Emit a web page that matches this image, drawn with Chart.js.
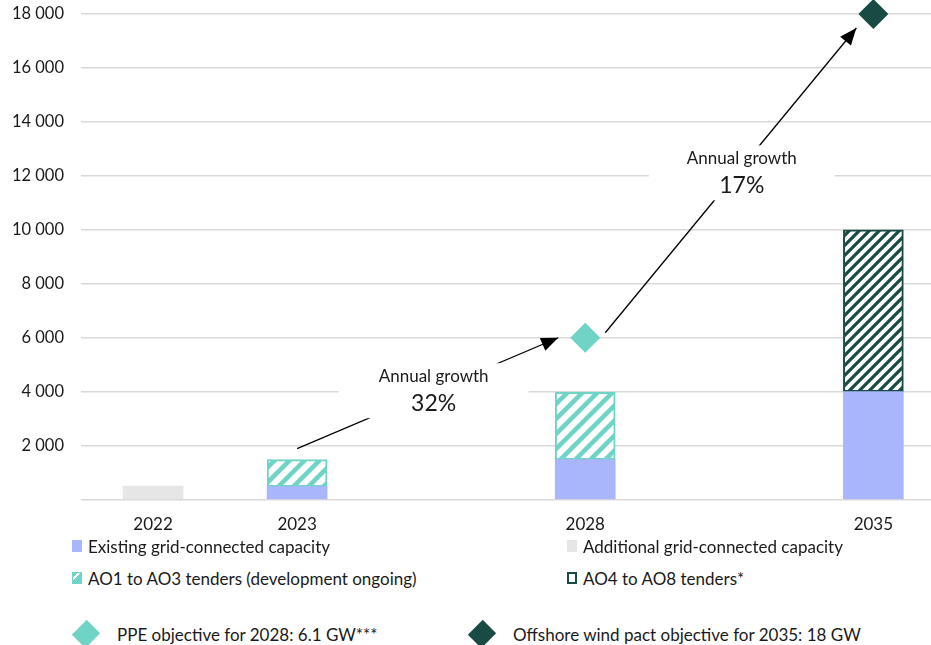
<!DOCTYPE html>
<html>
<head>
<meta charset="utf-8">
<script src="https://cdn.jsdelivr.net/npm/chart.js@4.4.1/dist/chart.umd.min.js"></script>
<style>
  body { margin: 0; background: #fff; font-family: Lato, "Open Sans", sans-serif; }
  #wrap { position: relative; width: 931px; height: 645px; overflow: hidden; }
  #box { position: absolute; left: 0; top: 0; width: 931px; height: 542px; }
  .leg { position: absolute; font-size: 17px; color: #1a1a1a; display: flex; align-items: center; white-space: nowrap; height: 20px; }
  .ico { width: 10px; height: 12px; margin-right: 6px; box-sizing: border-box; }
  .dia { width: 20px; height: 20px; transform: rotate(45deg) scale(0.95, 1.05); margin: 0 21px 0 4px; }
</style>
</head>
<body>
<div id="wrap">
  <div id="box"><canvas id="offshoreChart"></canvas></div>
  <div id="legend"></div>
</div>
<script>
// categories (blank slots keep the spacing between 2023, 2028 and 2035)
const categories = ['2022', '2023', '', '2028', '', '2035'];
const shownCategories = [0, 1, 3, 5];

// MW
const existing   = [null, 480, null, 1480, null, 4000];
const additional = [500, null, null, null, null, null];
const ao1to3     = [null, 1000, null, 2500, null, null];
const ao4to8     = [null, null, null, null, null, 6000];
const ppeTarget  = [null, null, null, 6000, null, null];
const pactTarget = [null, null, null, null, null, 18000];

const yTicks = [0, 2000, 4000, 6000, 8000, 10000, 12000, 14000, 16000, 18000];
const growthRates = ['32%', '17%'];

const labels = [
  'Existing grid-connected capacity',
  'Additional grid-connected capacity',
  'AO1 to AO3 tenders (development ongoing)',
  'AO4 to AO8 tenders*',
  'PPE objective for 2028: 6.1 GW***',
  'Offshore wind pact objective for 2035: 18 GW'
];

const BLUE = '#a9b6fc', GREY = '#e6e6e6', TEAL = '#6fd3c5', DARK = '#194a44';

function hatch(color, size, lw) {
  const c = document.createElement('canvas');
  c.width = c.height = size;
  const g = c.getContext('2d');
  g.fillStyle = '#fff';
  g.fillRect(0, 0, size, size);
  g.strokeStyle = color;
  g.lineWidth = lw;
  g.beginPath();
  g.moveTo(-2, size + 2); g.lineTo(size + 2, -2);
  g.moveTo(-2, 2); g.lineTo(2, -2);
  g.moveTo(size - 2, size + 2); g.lineTo(size + 2, size - 2);
  g.stroke();
  return g.createPattern(c, 'repeat');
}

function pts(arr) {
  return arr.map((v, i) => ({ x: i, y: v })).filter(p => p.y !== null);
}

function fmt(v) {
  return String(v).replace(/\B(?=(\d{3})+(?!\d))/g, ' ');
}

const growthArrows = {
  id: 'growthArrows',
  afterDatasetsDraw(chart) {
    const { ctx, scales: { x, y } } = chart;
    const a1 = [x.getPixelForValue(1), y.getPixelForValue(existing[1] + ao1to3[1]) - 11,
                x.getPixelForValue(3) - 27, y.getPixelForValue(ppeTarget[3])];
    const a2 = [x.getPixelForValue(3) + 20, y.getPixelForValue(ppeTarget[3]) - 5,
                x.getPixelForValue(5) - 17, y.getPixelForValue(pactTarget[5]) + 14];
    const items = [
      { a: a1, rate: growthRates[0], dx: 6, dy: -3, w: 190 },
      { a: a2, rate: growthRates[1], dx: 11, dy: -8, w: 186 }
    ];
    ctx.save();
    items.forEach(it => {
      const [x1, y1, x2, y2] = it.a;
      ctx.strokeStyle = '#000';
      ctx.fillStyle = '#000';
      ctx.lineWidth = 1.3;
      ctx.beginPath();
      ctx.moveTo(x1, y1);
      ctx.lineTo(x2, y2);
      ctx.stroke();
      const ang = Math.atan2(y2 - y1, x2 - x1);
      const L = 17, W = 7;
      ctx.beginPath();
      ctx.moveTo(x2, y2);
      ctx.lineTo(x2 - L * Math.cos(ang) + W * Math.sin(ang), y2 - L * Math.sin(ang) - W * Math.cos(ang));
      ctx.lineTo(x2 - L * Math.cos(ang) - W * Math.sin(ang), y2 - L * Math.sin(ang) + W * Math.cos(ang));
      ctx.closePath();
      ctx.fill();

      const cx = (x1 + x2) / 2 + it.dx, cy = (y1 + y2) / 2 + it.dy;
      ctx.fillStyle = '#fff';
      ctx.fillRect(cx - it.w / 2, cy - 27, it.w, 55);
      ctx.fillStyle = '#1a1a1a';
      ctx.textAlign = 'center';
      ctx.textBaseline = 'middle';
      ctx.font = '17px Lato, sans-serif';
      ctx.fillText('Annual growth', cx, cy - 14);
      ctx.font = '23px Lato, sans-serif';
      ctx.fillText(it.rate, cx, cy + 13);
    });
    ctx.restore();
  }
};

const tealHatch = hatch(TEAL, 15, 4.5);
const darkHatch = hatch(DARK, 10, 3.2);

const ctx = document.getElementById('offshoreChart');

new Chart(ctx, {
  data: {
    datasets: [
      { type: 'bar', label: labels[0], data: pts(existing), backgroundColor: BLUE, barThickness: 60, order: 2 },
      { type: 'bar', label: labels[1], data: pts(additional), backgroundColor: GREY, barThickness: 60, order: 2 },
      { type: 'bar', label: labels[2], data: pts(ao1to3), backgroundColor: tealHatch,
        borderColor: TEAL, borderWidth: 2, borderSkipped: false, barThickness: 60, order: 2 },
      { type: 'bar', label: labels[3], data: pts(ao4to8), backgroundColor: darkHatch,
        borderColor: DARK, borderWidth: 2, borderSkipped: false, barThickness: 60, order: 2 },
      { type: 'line', label: labels[4], data: pts(ppeTarget), showLine: false, stack: 'ppe', clip: false,
        pointStyle: 'rectRot', pointRadius: 15, pointBackgroundColor: TEAL, pointBorderWidth: 0, order: 1 },
      { type: 'line', label: labels[5], data: pts(pactTarget), showLine: false, stack: 'pact', clip: false,
        pointStyle: 'rectRot', pointRadius: 15, pointBackgroundColor: DARK, pointBorderWidth: 0, order: 1 }
    ]
  },
  options: {
    responsive: true,
    maintainAspectRatio: false,
    animation: false,
    layout: { autoPadding: false, padding: { top: 14, right: 0, bottom: 0, left: 0 } },
    plugins: {
      legend: { display: false },
      tooltip: { enabled: false }
    },
    scales: {
      x: {
        type: 'linear',
        stacked: true,
        offset: false,
        min: -0.5,
        max: 5.4,
        grid: { display: false },
        border: { display: false },
        afterBuildTicks: s => { s.ticks = shownCategories.map(v => ({ value: v })); },
        afterFit: s => { s.paddingRight = 0; s.paddingLeft = 0; },
        ticks: {
          color: '#1a1a1a',
          font: { family: 'Lato', size: 17 },
          padding: 7,
          maxRotation: 0,
          autoSkip: false,
          callback: v => categories[v]
        }
      },
      y: {
        stacked: true,
        min: 0,
        max: 18000,
        afterBuildTicks: s => { s.ticks = yTicks.map(v => ({ value: v })); },
        afterFit: s => { s.width = 81; s.paddingTop = 0; s.paddingBottom = 0; },
        grid: { color: '#d9d9d9', lineWidth: 1.6, drawTicks: false },
        border: { display: false },
        ticks: {
          color: '#1a1a1a',
          font: { family: 'Lato', size: 16.5 },
          padding: 17,
          callback: v => (v === 0 ? '' : fmt(v))
        }
      }
    }
  },
  plugins: [growthArrows]
});

// legend below the chart
const legendItems = [
  { i: 0, left: 72, top: 536, icon: `background:${BLUE}` },
  { i: 1, left: 567, top: 536, icon: `background:${GREY}` },
  { i: 2, left: 72, top: 568, icon: `background:repeating-linear-gradient(135deg, ${TEAL} 0 3px, #fff 3px 5px, ${TEAL} 5px 12px); border:1.5px solid ${TEAL}` },
  { i: 3, left: 567, top: 568, icon: `background:#fff; border:2px solid ${DARK}` },
  { i: 4, left: 72, top: 624, dia: TEAL },
  { i: 5, left: 468, top: 624, dia: DARK }
];
const legend = document.getElementById('legend');
legendItems.forEach(it => {
  const d = document.createElement('div');
  d.className = 'leg';
  d.style.left = it.left + 'px';
  d.style.top = it.top + 'px';
  d.innerHTML = it.dia
    ? `<span class="dia" style="background:${it.dia}"></span><span>${labels[it.i]}</span>`
    : `<span class="ico" style="${it.icon}"></span><span>${labels[it.i]}</span>`;
  legend.appendChild(d);
});
</script>
</body>
</html>
